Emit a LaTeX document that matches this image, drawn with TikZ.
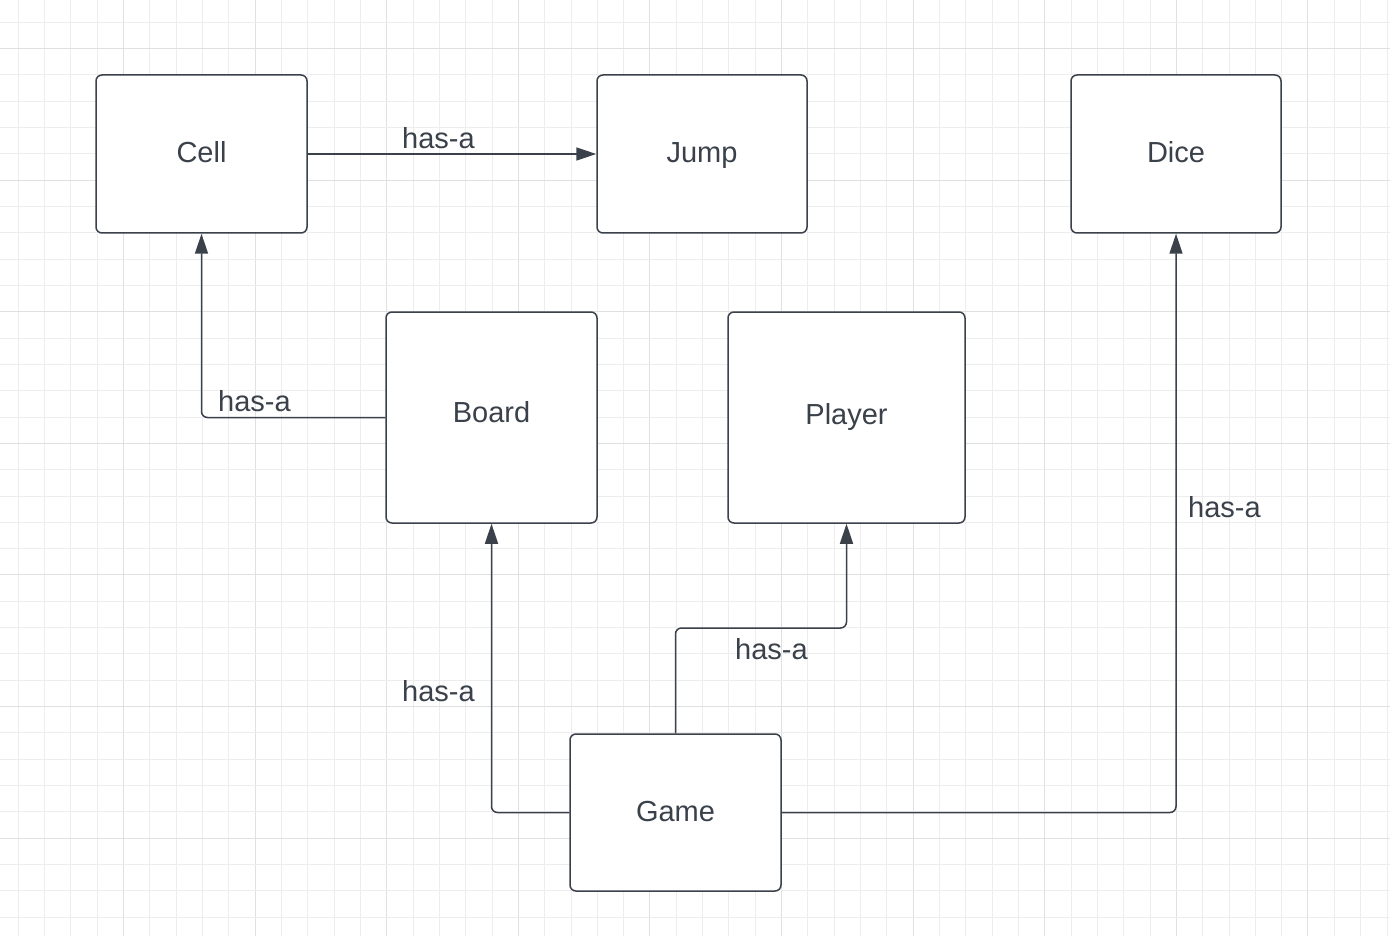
\documentclass[tikz,border=0pt]{standalone}
\usepackage{fontspec}
\setmainfont{Liberation Sans}
\usetikzlibrary{arrows.meta}
\definecolor{linec}{HTML}{3A414A}
\definecolor{textc}{HTML}{3A414A}
\definecolor{gridminor}{HTML}{EDEDED}
\definecolor{gridmajor}{HTML}{E0E0E0}
\tikzset{
  boxnode/.style={draw=linec, line width=1.5pt, rounded corners=6pt, fill=white,
    text=textc, font=\fontsize{29}{34}\selectfont, text height=22pt, text depth=4pt, inner sep=0pt},
  conn/.style={draw=linec, line width=1.5pt, rounded corners=6pt,
    -{Triangle[length=20pt,width=13pt]}},
  lbl/.style={text=textc, font=\fontsize{29}{34}\selectfont, inner sep=0pt, anchor=base west}
}
\begin{document}
\begin{tikzpicture}[x=1pt,y=-1pt]
\useasboundingbox (0,0) rectangle (1390,936);
\fill[white] (0,0) rectangle (1390,936);
% grid
\foreach \k in {0,...,52} {
  \pgfmathsetmacro{\xx}{18.3+26.32*\k}
  \pgfmathtruncatemacro{\m}{mod(\k+1,5)}
  \ifnum\m=0
    \draw[gridmajor, line width=1pt] (\xx,0) -- (\xx,936);
  \else
    \draw[gridminor, line width=0.9pt] (\xx,0) -- (\xx,936);
  \fi
}
\foreach \k in {0,...,35} {
  \pgfmathsetmacro{\yy}{22.2+26.32*\k}
  \pgfmathtruncatemacro{\m}{mod(\k+4,5)}
  \ifnum\m=0
    \draw[gridmajor, line width=1pt] (0,\yy) -- (1390,\yy);
  \else
    \draw[gridminor, line width=0.9pt] (0,\yy) -- (1390,\yy);
  \fi
}
% boxes
\node[boxnode, minimum width=211pt, minimum height=158pt] (cell) at (201.5,154) {Cell};
\node[boxnode, minimum width=210pt, minimum height=158pt] (jump) at (702,154) {Jump};
\node[boxnode, minimum width=210pt, minimum height=158pt] (dice) at (1176,154) {Dice};
\node[boxnode, minimum width=211pt, minimum height=211pt, text depth=12pt] (board) at (491.5,417.5) {Board};
\node[boxnode, minimum width=237pt, minimum height=211pt, text depth=8pt] (player) at (846.5,417.5) {Player};
\node[boxnode, minimum width=211pt, minimum height=157pt] (game) at (675.5,812.5) {Game};
% connectors
\coordinate (pm) at (760,628);
\draw[conn] (cell.east) -- (jump.west);
\draw[conn] (board.west) -| (cell.south);
\draw[conn] (game.west) -| (board.south);
\draw[conn] (game.north) |- (pm) -| (player.south);
\draw[conn] (game.east) -| (dice.south);
% labels
\node[lbl] (l1) at (402,149) {has-a};
\node[lbl] (l2) at (218,411) {has-a};
\node[lbl] (l3) at (402,701) {has-a};
\node[lbl] (l4) at (735,659) {has-a};
\node[lbl] (l5) at (1188,517) {has-a};
\end{tikzpicture}
\end{document}
